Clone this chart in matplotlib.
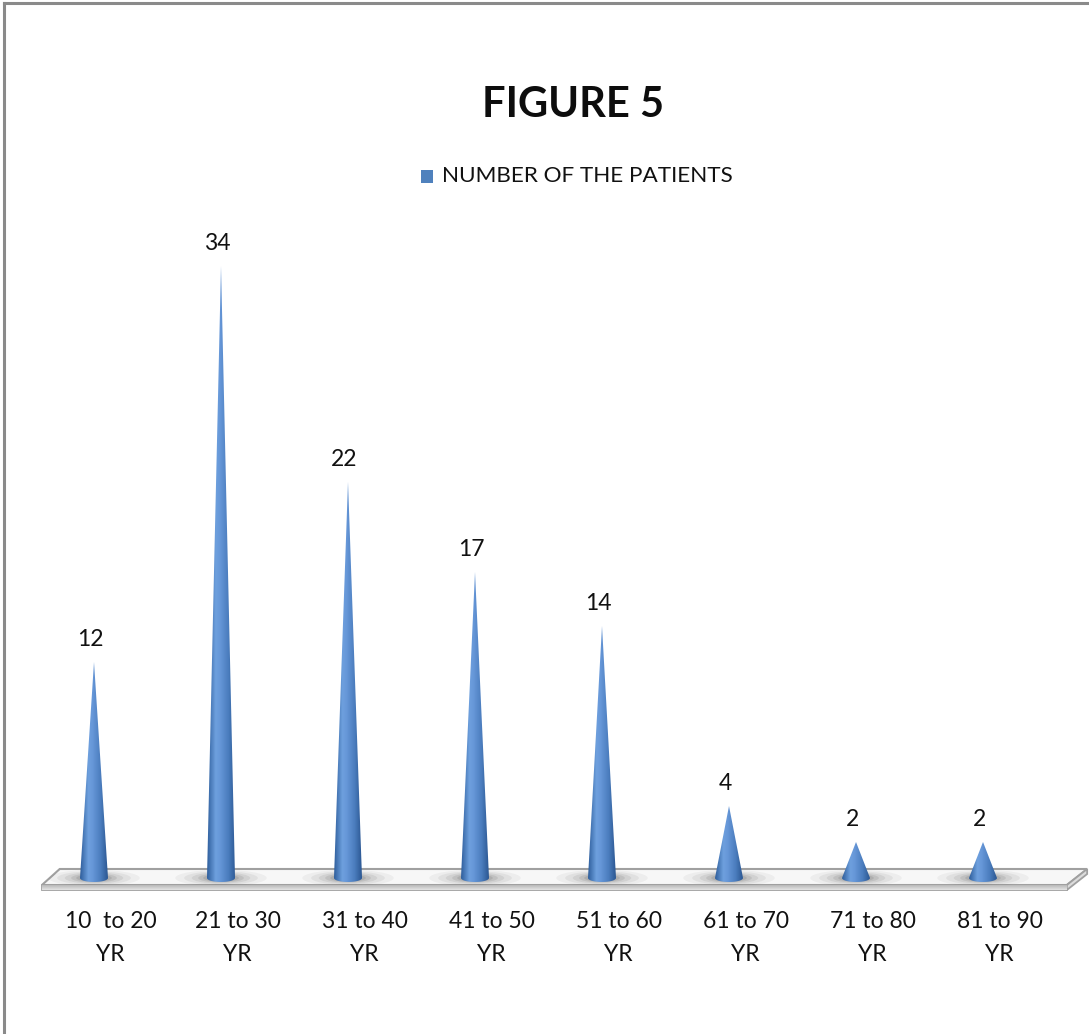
import numpy as np
import matplotlib
matplotlib.use("Agg")
import matplotlib.pyplot as plt
from matplotlib.patches import Polygon, Ellipse, Rectangle
from matplotlib.colors import LinearSegmentedColormap
from matplotlib.lines import Line2D

plt.rcParams['font.family'] = ['Lato', 'DejaVu Sans']

# ---- data -------------------------------------------------------------
age_groups = ["10  to 20\nYR", "21 to 30\nYR", "31 to 40\nYR", "41 to 50\nYR",
              "51 to 60\nYR", "61 to 70\nYR", "71 to 80\nYR", "81 to 90\nYR"]
patients = [12, 34, 22, 17, 14, 4, 2, 2]
series_name = "NUMBER OF THE PATIENTS"
title = "FIGURE 5"

# ---- figure -----------------------------------------------------------
W, H, DPI = 1089, 1034, 100
fig = plt.figure(figsize=(W / DPI, H / DPI), dpi=DPI)
fig.patch.set_facecolor("white")

# outer chart frame (top and left edges)
fig.add_artist(Line2D([4 / W, 4 / W], [0, 1 - 3 / H], color="#8a8a8a", lw=2.2,
                      transform=fig.transFigure))
fig.add_artist(Line2D([4 / W, 1], [1 - 3 / H, 1 - 3 / H], color="#8a8a8a", lw=2.2,
                      transform=fig.transFigure))

# plot area: category spacing 127 px, 18 px per patient
x0_px, base_px, dx_px, dy_px = 94, 878, 127, 18
left_px, right_px, top_px, bot_px = 30, 1089, 230, 900
ax = fig.add_axes([left_px / W, 1 - bot_px / H, (right_px - left_px) / W,
                   (bot_px - top_px) / H])
ax.set_xlim((left_px - x0_px) / dx_px, (right_px - x0_px) / dx_px)
ax.set_ylim((base_px - bot_px) / dy_px, (base_px - top_px) / dy_px)
for s in ax.spines.values():
    s.set_visible(False)
ax.set_yticks([])
ax.set_facecolor("none")

x = np.arange(len(patients))

# ---- floor slab --------------------------------------------------------
back, front, bottom = 0.5, -0.39, -0.67
bl, br, fl, fr = -0.27, 7.82, -0.41, 7.66
top_face = Polygon([(bl, back), (br, back), (fr, front), (fl, front)], closed=True,
                   facecolor="#f7f7f7", edgecolor="#a0a0a0", lw=1.5, zorder=1)
front_face = Polygon([(fl, front), (fr, front), (fr, bottom), (fl, bottom)], closed=True,
                     facecolor="#d0d0d0", edgecolor="#a0a0a0", lw=1.3, zorder=1)
side_face = Polygon([(fr, front), (br, back), (br, back - (front - bottom)), (fr, bottom)],
                    closed=True, facecolor="#dcdcdc", edgecolor="#a0a0a0", lw=1.3, zorder=1)
for p in (top_face, front_face, side_face):
    ax.add_patch(p)

# front face vertical gradient
grad_v = np.linspace(0, 1, 50).reshape(-1, 1)
im = ax.imshow(grad_v, extent=[fl, fr, bottom, front], aspect="auto",
               cmap=LinearSegmentedColormap.from_list("fl", ["#e4e4e4", "#b0b0b0"]),
               zorder=1.1, origin="lower")
im.set_clip_path(front_face)

# soft shadows under each cone
for xi in x:
    for w, h, a in [(0.72, 0.9, 0.06), (0.58, 0.75, 0.08), (0.46, 0.62, 0.10),
                    (0.36, 0.5, 0.13), (0.28, 0.4, 0.16)]:
        e = Ellipse((xi, 0.0), w, h, facecolor="#505050", edgecolor="none", alpha=a,
                    zorder=1.5)
        ax.add_patch(e)
        e.set_clip_path(top_face)

# ---- cones --------------------------------------------------------------
hw = 14 / dx_px          # base half-width
eh = 4 / dy_px           # base ellipse half-height
cone_cmap = LinearSegmentedColormap.from_list(
    "cone", [(0.0, "#2f5f9d"), (0.3, "#6ea0de"), (0.45, "#6697d8"),
             (0.75, "#4a7cbd"), (1.0, "#2c5893")])
grad_h = np.linspace(0, 1, 64).reshape(1, -1)
for xi, v in zip(x, patients):
    t = np.linspace(0, np.pi, 30)
    arc = [(xi + hw * np.cos(tt), -eh * np.sin(tt)) for tt in t]
    verts = [(xi, v)] + arc
    cone = Polygon(verts, closed=True, facecolor="none", edgecolor="none", zorder=3)
    ax.add_patch(cone)
    ci = ax.imshow(grad_h, extent=[xi - hw, xi + hw, -eh, v], aspect="auto",
                   cmap=cone_cmap, zorder=3, interpolation="bilinear")
    ci.set_clip_path(cone)
    # value label above the tip
    ax.text(xi - 0.03, v + 23 / dy_px, str(v), ha="center", va="center",
            fontsize=16.5, color="#111111", zorder=4)

# ---- category labels ---------------------------------------------------
ax.set_xticks(x + 0.13)
ax.set_xticklabels(age_groups, fontsize=16.5, color="#111111", linespacing=1.68)
ax.tick_params(axis="x", length=0, pad=8)

# ---- title and legend --------------------------------------------------
fig.text(573 / W, 1 - 105 / H, title, ha="center", va="center", fontsize=30,
         fontweight="bold", color="#0d0d0d")
fig.add_artist(Rectangle((421 / W, 1 - 183 / H), 12 / W, 13 / H, facecolor="#4f81bd",
                         edgecolor="none", transform=fig.transFigure))
fig.text(442 / W, 1 - 176 / H, series_name, ha="left", va="center", fontsize=16.2,
         color="#111111")

fig.savefig("out.png", dpi=DPI)
